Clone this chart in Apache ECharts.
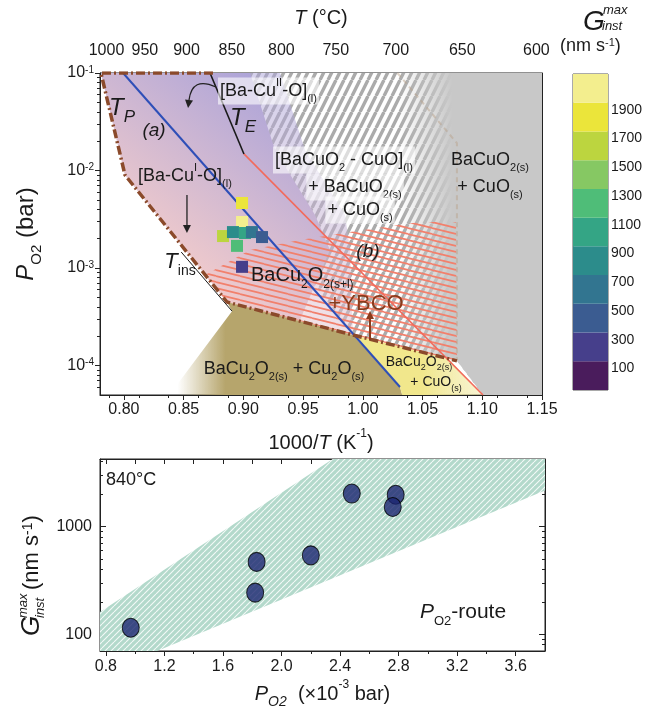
<!DOCTYPE html>
<html>
<head>
<meta charset="utf-8">
<script src="https://cdn.jsdelivr.net/npm/echarts@6/dist/echarts.min.js"></script>
<style>
  html, body { margin: 0; background: #fff; }
  #main { width: 652px; height: 711px; }
</style>
</head>
<body>
<div id="main"></div>
<script>
// ---------- top panel: x = 1000/T (K^-1), y = PO2 (bar) ----------
const xTicksTop = [0.80, 0.85, 0.90, 0.95, 1.00, 1.05, 1.10, 1.15];
const tempTicksC = [1000, 950, 900, 850, 800, 750, 700, 650, 600];
const tempMinorC = [975, 925, 875, 825, 775, 725, 675, 625];

const lineA = [[0.7993, 0.1], [1.0311, 6.04e-5]];
const lineTE = [[0.8721, 0.1], [0.9005, 0.0148]];
const lineB = [[0.9005, 0.0148], [1.1006, 5.0e-5]];
const lineTins = [[0.848, 1.46e-3], [0.8905, 3.62e-4]];
const lineFaint = [[1.029, 0.1], [1.0788, 0.0191], [1.0788, 1.14e-4]];
const boundary = [[0.8746, 0.1], [0.7808, 0.1], [0.8009, 9.0e-3], [0.8863, 4.49e-4], [0.9918, 2.06e-4], [1.0788, 1.12e-4]];

const liquidRegion = [[0.7808, 0.1], [0.9056, 0.1], [0.9265, 0.0162], [0.96, 3.5e-3], [0.9725, 1.53e-3], [0.9474, 2.94e-4], [0.8863, 4.49e-4], [0.8009, 9.0e-3]];
const liquidHalo = [[0.7808, 0.1], [0.9307, 0.1], [0.9516, 0.0162], [0.9851, 3.5e-3], [0.9893, 1.53e-3], [0.9918, 2.06e-4], [0.8863, 4.49e-4], [0.8009, 9.0e-3]];
const grayHatchRegion = [[0.87, 0.1], [1.15, 0.1], [1.15, 5e-5], [1.1006, 5e-5], [1.0788, 1.12e-4], [0.9918, 2.06e-4], [0.93, 2e-3]];
const graySolidRegion = [[1.02, 0.1], [1.15, 0.1], [1.15, 5e-5], [1.1006, 5e-5], [1.0788, 1.12e-4], [1.02, 1.6e-4]];
const redHatchRegion = [[0.8679, 8.5e-4], [0.9056, 1.53e-3], [0.9474, 1.94e-3], [0.9893, 2.34e-3], [1.0479, 2.97e-3], [1.078, 2.97e-3], [1.0788, 1.12e-4], [0.9918, 2.06e-4], [0.8863, 4.49e-4]];
const oliveRegion = [[0.8863, 4.49e-4], [0.9918, 2.06e-4], [1.0311, 6.04e-5], [1.033, 5e-5], [0.838, 5e-5], [0.8905, 3.62e-4]];
const yellowRegion = [[0.9918, 2.06e-4], [1.072, 1.17e-4], [1.1006, 5e-5], [1.033, 5e-5], [1.0311, 6.04e-5]];

// growth-rate squares: [1000/T, PO2, G]
const squares = [
  [0.8989, 4.65e-3, 1850], [0.8989, 2.97e-3, 2050], [0.883, 2.13e-3, 1650],
  [0.8913, 2.34e-3, 850], [0.9014, 2.29e-3, 1050], [0.9072, 2.34e-3, 650],
  [0.9156, 2.08e-3, 450], [0.8947, 1.69e-3, 1250], [0.8989, 1.03e-3, 250]
];

// colour bar
const pieceEdges = [-50, 150, 350, 550, 750, 950, 1150, 1350, 1550, 1750, 1950, 2150];
const pieceColors = ['#4a1c5c', '#463f8b', '#3b5c91', '#327590', '#2c8c8b', '#34a585', '#4fbd78', '#86c863', '#bcd53f', '#ebe53a', '#f3ee8e'];
const cbTicks = [100, 300, 500, 700, 900, 1100, 1300, 1500, 1700, 1900];

// ---------- bottom panel: PO2 (1e-3 bar) vs G ----------
const po2 = [0.97, 1.83, 1.82, 2.2, 2.48, 2.78, 2.76];
const gInst = [115, 468, 243, 538, 2010, 1960, 1510];
const xTicksBottom = [0.8, 1.2, 1.6, 2.0, 2.4, 2.8, 3.2, 3.6];
const bandRegion = [[0.76, 70], [0.76, 161], [2.35, 4200], [3.8, 4200], [3.8, 2150], [1.15, 70]];

const FONT = '"Liberation Sans", Arial, sans-serif';

function richFor(size) {
  const s = Math.round(size * 0.62);
  return {
    i: { fontStyle: 'italic', fontSize: size, lineHeight: size * 1.5, verticalAlign: 'middle' },
    sup: { fontSize: s, lineHeight: s, verticalAlign: 'top' },
    sub: { fontSize: s, lineHeight: s, verticalAlign: 'bottom' },
    isub: { fontSize: s + 2, lineHeight: s + 2, fontStyle: 'italic', verticalAlign: 'bottom' }
  };
}

function hatch(w, h, bg, fg, lw, segs) {
  const c = document.createElement('canvas');
  c.width = w; c.height = h;
  const g = c.getContext('2d');
  if (bg) { g.fillStyle = bg; g.fillRect(0, 0, w, h); }
  g.strokeStyle = fg; g.lineWidth = lw; g.beginPath();
  segs.forEach(s => { g.moveTo(s[0], s[1]); g.lineTo(s[2], s[3]); });
  g.stroke();
  return { image: c, repeat: 'repeat' };
}
const grayHatch = hatch(8, 16, '#ffffff', '#ababab', 3.4, [[-8, 16, 0, 0], [0, 16, 8, 0], [8, 16, 16, 0]]);
const redHatch = hatch(24, 6, null, '#f2806c', 1.7, [[0, -6, 24, 0], [0, 0, 24, 6], [0, 6, 24, 12]]);
const tealHatch = hatch(6, 6, '#b3d9cb', 'rgba(255,255,255,0.85)', 1.1, [[-6, 6, 0, 0], [0, 6, 6, 0], [6, 6, 12, 0]]);

function grad(from, to, stops) {
  return c => {
    const a = c(from), b = c(to);
    return new echarts.graphic.LinearGradient(a[0], a[1], b[0], b[1], stops, true);
  };
}

function poly(points, fill, z, xi, yi) {
  return {
    type: 'custom', xAxisIndex: xi || 0, yAxisIndex: yi || 0, silent: true, z: z, clip: true,
    data: [points[0]],
    renderItem: (params, api) => {
      const c = p => api.coord(p);
      return {
        type: 'polygon',
        shape: { points: points.map(c) },
        style: { fill: typeof fill === 'function' ? fill(c) : fill, stroke: null }
      };
    }
  };
}

function line(data, color, width, type, z) {
  return {
    type: 'line', xAxisIndex: 0, yAxisIndex: 0, data: data, showSymbol: false, symbol: 'none',
    silent: true, z: z || 10, lineStyle: { color: color, width: width, type: type || 'solid' }
  };
}

const notes = [
  { at: [0.8788, 0.0654], text: '[Ba-Cu{sup|II}-O]{sub|(l)}', size: 18, align: 'left', bg: true },
  { at: [0.8997, 0.0346], text: '{i|T}{isub|E}', size: 24 },
  { at: [0.7984, 0.0438], text: '{i|T}{isub|P}', size: 24 },
  { at: [0.8252, 0.0254], text: '{i|(a)}', size: 19 },
  { at: [0.8118, 8.8e-3], text: '[Ba-Cu{sup|I}-O]{sub|(l)}', size: 18, align: 'left' },
  { at: [0.847, 1.16e-3], text: '{i|T}{sub|ins}', size: 22 },
  { at: [0.9248, 0.0128], text: '[BaCuO{sub|2} - CuO]{sub|(l)}', size: 18, align: 'left', bg: true },
  { at: [0.9935, 6.78e-3], text: '+ BaCuO{sub|2(s)}', size: 18, bg: true },
  { at: [0.9977, 3.94e-3], text: '+ CuO{sub|(s)}', size: 18, bg: true },
  { at: [1.1065, 0.0128], text: 'BaCuO{sub|2(s)}', size: 18 },
  { at: [1.1065, 6.78e-3], text: '+ CuO{sub|(s)}', size: 18 },
  { at: [1.0043, 1.46e-3], text: '{i|(b)}', size: 19 },
  { at: [0.9064, 8.3e-4], text: 'BaCu{sub|2}O{sub|2(s+l)}', size: 20, align: 'left' },
  { at: [1.0027, 4.29e-4], text: '+YBCO', size: 22, color: '#8a3b1c' },
  { at: [0.934, 9.25e-5], text: 'BaCu{sub|2}O{sub|2(s)} + Cu{sub|2}O{sub|(s)}', size: 18 },
  { at: [1.047, 1.09e-4], text: 'BaCu{sub|2}O{sub|2(s)}', size: 14 },
  { at: [1.0613, 6.79e-5], text: '+ CuO{sub|(s)}', size: 14 }
];
const notesBottom = [
  { at: [0.801, 2665], text: '840°C', size: 18, align: 'left' },
  { at: [3.24, 160], text: '{i|P}{sub|O2}-route', size: 21 }
];

const arrows = [
  { from: [0.8771, 0.0719], ctrl: [0.857, 0.0931], to: [0.8537, 0.0438], color: '#222' },
  { from: [0.8528, 5.62e-3], to: [0.8528, 2.29e-3], color: '#222' },
  { from: [1.006, 1.83e-4], to: [1.006, 3.63e-4], color: '#8a3b1c' }
];

function noteSeries(list, xi, yi) {
  return {
    type: 'custom', xAxisIndex: xi, yAxisIndex: yi, silent: true, z: 30, clip: false,
    data: list.map(n => n.at),
    renderItem: (params, api) => {
      const n = list[params.dataIndex];
      const p = api.coord([api.value(0), api.value(1)]);
      return {
        type: 'text', x: p[0], y: p[1],
        style: {
          text: n.text, rich: richFor(n.size), fontSize: n.size, lineHeight: n.size * 1.5,
          fontFamily: FONT, fill: n.color || '#1a1a1a', align: n.align || 'center',
          verticalAlign: 'middle', backgroundColor: n.bg ? 'rgba(255,255,255,0.6)' : null,
          padding: n.bg ? [0, 2] : 0
        }
      };
    }
  };
}

function logMinor(lo, hi) {
  const out = [];
  for (let d = -6; d <= 4; d++) for (let m = 2; m <= 9; m++) {
    const v = m * Math.pow(10, d);
    if (v > lo && v < hi) out.push(Math.log10(v));
  }
  return out;
}

const xMinorTop = [];
for (let k = 1; k < 30; k++) { const v = 0.775 + k * 0.0125; if (k % 4 !== 0 && v < 1.15) xMinorTop.push(+v.toFixed(4)); }
const xMinorBottom = [1.0, 1.4, 1.8, 2.2, 2.6, 3.0, 3.4];
const tempPos = tempTicksC.map(t => 1000 / (t + 273.15));
const tempMinorPos = tempMinorC.map(t => 1000 / (t + 273.15));

const axisLineK = { show: true, lineStyle: { color: '#222', width: 1 } };
const noLabel = { show: false };
const hidden = { show: false };

const series = [
  poly(grayHatchRegion, grayHatch, 1),
  poly(graySolidRegion, grad([1.03, 1e-3], [1.075, 1e-3], [{ offset: 0, color: 'rgba(200,200,200,0)' }, { offset: 1, color: '#c8c8c8' }]), 2),
  poly(liquidHalo, grad([0.8219, 9.5e-4], [0.939, 0.0595], [{ offset: 0, color: 'rgba(248,207,202,0.5)' }, { offset: 1, color: 'rgba(171,163,217,0.5)' }]), 3),
  poly(liquidRegion, grad([0.8219, 9.5e-4], [0.939, 0.0595], [{ offset: 0, color: '#f8cfca' }, { offset: 1, color: '#aba3d9' }]), 4),
  poly(redHatchRegion, redHatch, 5),
  poly(oliveRegion, grad([0.845, 1e-4], [0.885, 1e-4], [{ offset: 0, color: 'rgba(182,165,108,0)' }, { offset: 1, color: '#b6a56c' }]), 5),
  poly(yellowRegion, grad([1.05, 1e-4], [1.10, 1e-4], [{ offset: 0, color: '#f1e78c' }, { offset: 1, color: 'rgba(240,232,160,0.45)' }]), 5),
  line(lineFaint, 'rgba(185,160,135,0.45)', 2, [5, 4], 8),
  line(lineA, '#2e4fb8', 2),
  line(lineB, '#f26a5c', 1.6),
  line(lineTE, '#1a1a1a', 1.6),
  line(lineTins, '#1a1a1a', 1),
  line(boundary, '#8b4a2b', 3.5, [9, 3, 2, 3], 11),
  {
    type: 'custom', xAxisIndex: 0, yAxisIndex: 0, silent: true, z: 25, clip: false,
    data: arrows.map(a => a.to),
    renderItem: (params, api) => {
      const a = arrows[params.dataIndex];
      const p0 = api.coord(a.from), p1 = api.coord(a.to);
      const pc = a.ctrl ? api.coord(a.ctrl) : null;
      const dir = pc ? [p1[0] - pc[0], p1[1] - pc[1]] : [p1[0] - p0[0], p1[1] - p0[1]];
      const L = Math.hypot(dir[0], dir[1]);
      const u = [dir[0] / L, dir[1] / L], n = [-u[1], u[0]];
      const hl = 8, hw = 4;
      const base = [p1[0] - u[0] * hl, p1[1] - u[1] * hl];
      const head = { type: 'polygon', shape: { points: [p1, [base[0] + n[0] * hw, base[1] + n[1] * hw], [base[0] - n[0] * hw, base[1] - n[1] * hw]] }, style: { fill: a.color } };
      const body = pc
        ? { type: 'bezierCurve', shape: { x1: p0[0], y1: p0[1], x2: base[0], y2: base[1], cpx1: pc[0], cpy1: pc[1] }, style: { stroke: a.color, lineWidth: 1.3, fill: null } }
        : { type: 'line', shape: { x1: p0[0], y1: p0[1], x2: base[0], y2: base[1] }, style: { stroke: a.color, lineWidth: a.color === '#222' ? 1.3 : 2 } };
      return { type: 'group', children: [body, head] };
    }
  },
  {
    type: 'scatter', xAxisIndex: 0, yAxisIndex: 0, data: squares, symbol: 'rect', symbolSize: 12,
    z: 20, silent: true, itemStyle: { opacity: 1 }
  },
  noteSeries(notes, 0, 0),
  // bottom panel
  poly(bandRegion, tealHatch, 1, 3, 4),
  {
    type: 'scatter', xAxisIndex: 3, yAxisIndex: 4, data: po2.map((p, i) => [p, gInst[i]]),
    symbol: 'circle', symbolSize: [17, 19], z: 20, silent: true,
    itemStyle: { color: '#1c2571', borderColor: '#000', borderWidth: 1 }
  },
  noteSeries(notesBottom, 3, 4),
  // colour bar
  {
    type: 'custom', xAxisIndex: 6, yAxisIndex: 8, silent: true, z: 5,
    data: pieceColors.map((c, i) => [0, pieceEdges[i], pieceEdges[i + 1]]),
    renderItem: (params, api) => {
      const cs = params.coordSys;
      const y0 = api.coord([0, api.value(1)])[1], y1 = api.coord([0, api.value(2)])[1];
      return { type: 'rect', shape: { x: cs.x, y: y1, width: cs.width, height: y0 - y1 }, style: { fill: pieceColors[params.dataIndex] } };
    }
  }
];
const squareIndex = series.findIndex(s => s.type === 'scatter' && s.data === squares);

const labelFont = { fontFamily: FONT, fontSize: 16, color: '#1a1a1a' };

const option = {
  animation: false,
  grid: [
    { left: 100, top: 73, width: 442, height: 322, show: true, borderColor: '#222', borderWidth: 1 },
    { left: 100, top: 459, width: 445, height: 192, show: true, borderColor: '#222', borderWidth: 1 },
    { left: 573, top: 74, width: 35, height: 316, show: true, borderColor: '#555', borderWidth: 1 }
  ],
  visualMap: {
    type: 'piecewise', show: false, seriesIndex: squareIndex, dimension: 2,
    pieces: pieceColors.map((c, i) => ({ gte: pieceEdges[i], lt: pieceEdges[i + 1], color: c }))
  },
  xAxis: [
    { gridIndex: 0, type: 'value', position: 'bottom', min: 0.78, max: 1.15, splitLine: hidden, axisLine: axisLineK,
      axisTick: { inside: false, length: 5, customValues: xTicksTop, lineStyle: { color: '#222' } },
      axisLabel: Object.assign({ customValues: xTicksTop, margin: 7, formatter: v => v.toFixed(2) }, labelFont),
      name: '1000/{i|T} (K{sup|-1})', nameLocation: 'middle', nameGap: 33,
      nameTextStyle: { fontFamily: FONT, fontSize: 20, color: '#1a1a1a', rich: richFor(20) } },
    { gridIndex: 0, type: 'value', position: 'bottom', min: 0.78, max: 1.15, splitLine: hidden, axisLine: hidden,
      axisTick: { inside: false, length: 3, customValues: xMinorTop, lineStyle: { color: '#222' } }, axisLabel: noLabel },
    { gridIndex: 0, type: 'value', position: 'top', min: 0.78, max: 1.15, splitLine: hidden, axisLine: axisLineK,
      axisTick: { inside: true, length: 5, customValues: tempPos.concat(tempMinorPos), lineStyle: { color: '#222' } },
      axisLabel: Object.assign({ customValues: tempPos, margin: 14, formatter: v => String(Math.round(1000 / v - 273.15)) }, labelFont),
      name: '{i|T} (°C)', nameLocation: 'middle', nameGap: 40,
      nameTextStyle: { fontFamily: FONT, fontSize: 20, color: '#1a1a1a', rich: richFor(20) } },
    { gridIndex: 1, type: 'value', position: 'bottom', min: 0.76, max: 3.8, splitLine: hidden, axisLine: axisLineK,
      axisTick: { inside: false, length: 5, customValues: xTicksBottom, lineStyle: { color: '#222' } },
      axisLabel: Object.assign({ customValues: xTicksBottom, margin: 8, formatter: v => v.toFixed(1) }, labelFont),
      name: '{i|P}{isub|O2}  (×10{sup|-3} bar)', nameLocation: 'middle', nameGap: 28,
      nameTextStyle: { fontFamily: FONT, fontSize: 20, color: '#1a1a1a', rich: richFor(20) } },
    { gridIndex: 1, type: 'value', position: 'bottom', min: 0.76, max: 3.8, splitLine: hidden, axisLine: hidden,
      axisTick: { inside: false, length: 3, customValues: xMinorBottom, lineStyle: { color: '#222' } }, axisLabel: noLabel },
    { gridIndex: 1, type: 'value', position: 'top', min: 0.76, max: 3.8, splitLine: hidden, axisLine: axisLineK,
      axisTick: { inside: true, length: 5, customValues: xTicksBottom.concat(xMinorBottom), lineStyle: { color: '#222' } }, axisLabel: noLabel },
    { gridIndex: 2, type: 'category', data: [''], show: false }
  ],
  yAxis: [
    { gridIndex: 0, type: 'log', position: 'left', min: 5e-5, max: 0.1, splitLine: hidden, axisLine: axisLineK,
      axisTick: { inside: false, length: 5, lineStyle: { color: '#222' } },
      axisLabel: Object.assign({ showMinLabel: false, margin: 6, formatter: v => '10{sup|' + Math.round(Math.log10(v)) + '}', rich: richFor(16) }, labelFont),
      name: '{i|P}{sub|O2} (bar)', nameLocation: 'middle', nameGap: 56, nameRotate: 90,
      nameTextStyle: { fontFamily: FONT, fontSize: 24, color: '#1a1a1a', rich: richFor(24) } },
    { gridIndex: 0, type: 'value', position: 'left', min: Math.log10(5e-5), max: -1, splitLine: hidden, axisLine: hidden,
      axisTick: { inside: false, length: 3, customValues: logMinor(5e-5, 0.1), lineStyle: { color: '#222' } }, axisLabel: noLabel },
    { gridIndex: 0, type: 'log', position: 'right', min: 5e-5, max: 0.1, splitLine: hidden, axisLine: axisLineK,
      axisTick: { inside: true, length: 5, lineStyle: { color: '#222' } }, axisLabel: noLabel },
    { gridIndex: 0, type: 'value', position: 'right', min: Math.log10(5e-5), max: -1, splitLine: hidden, axisLine: hidden,
      axisTick: { inside: true, length: 3, customValues: logMinor(5e-5, 0.1), lineStyle: { color: '#222' } }, axisLabel: noLabel },
    { gridIndex: 1, type: 'log', position: 'left', min: 70, max: 4200, splitLine: hidden, axisLine: axisLineK,
      axisTick: { inside: true, length: 6, lineStyle: { color: '#222' } },
      axisLabel: Object.assign({ showMinLabel: false, showMaxLabel: false, margin: 8, formatter: v => String(Math.round(v)) }, labelFont) },
    { gridIndex: 1, type: 'value', position: 'left', min: Math.log10(70), max: Math.log10(4200), splitLine: hidden, axisLine: hidden,
      axisTick: { inside: true, length: 3, customValues: logMinor(70, 4200), lineStyle: { color: '#222' } }, axisLabel: noLabel },
    { gridIndex: 1, type: 'log', position: 'right', min: 70, max: 4200, splitLine: hidden, axisLine: axisLineK,
      axisTick: { inside: true, length: 6, lineStyle: { color: '#222' } }, axisLabel: noLabel },
    { gridIndex: 1, type: 'value', position: 'right', min: Math.log10(70), max: Math.log10(4200), splitLine: hidden, axisLine: hidden,
      axisTick: { inside: true, length: 3, customValues: logMinor(70, 4200), lineStyle: { color: '#222' } }, axisLabel: noLabel },
    { gridIndex: 2, type: 'value', position: 'right', min: -50, max: 2150, splitLine: hidden, axisLine: hidden,
      axisTick: { inside: false, length: 4, customValues: cbTicks, lineStyle: { color: '#444' } },
      axisLabel: Object.assign({}, labelFont, { customValues: cbTicks, margin: 3, fontSize: 14, formatter: v => String(v) }) }
  ],
  graphic: [
    { type: 'text', left: 583, top: 8, style: { text: 'G', fontFamily: FONT, fontSize: 28, fontStyle: 'italic', fill: '#1a1a1a' } },
    { type: 'text', left: 603, top: 4, style: { text: 'max', fontFamily: FONT, fontSize: 13, fontStyle: 'italic', fill: '#1a1a1a' } },
    { type: 'text', left: 602, top: 20, style: { text: 'inst', fontFamily: FONT, fontSize: 13, fontStyle: 'italic', fill: '#1a1a1a' } },
    { type: 'text', left: 560, top: 37, style: { text: '(nm s{sup|-1})', rich: richFor(18), fontFamily: FONT, fontSize: 18, fill: '#1a1a1a' } },
    { type: 'group', x: 32, y: 636, rotation: Math.PI / 2, children: [
      { type: 'text', x: 0, y: 0, style: { text: 'G', fontFamily: FONT, fontSize: 26, fontStyle: 'italic', fill: '#1a1a1a', align: 'left', verticalAlign: 'middle' } },
      { type: 'text', x: 18, y: -9, style: { text: 'max', fontFamily: FONT, fontSize: 13, fontStyle: 'italic', fill: '#1a1a1a', align: 'left', verticalAlign: 'middle' } },
      { type: 'text', x: 18, y: 8, style: { text: 'inst', fontFamily: FONT, fontSize: 13, fontStyle: 'italic', fill: '#1a1a1a', align: 'left', verticalAlign: 'middle' } },
      { type: 'text', x: 46, y: 0, style: { text: '(nm s{sup|-1})', rich: richFor(22), fontFamily: FONT, fontSize: 22, fill: '#1a1a1a', align: 'left', verticalAlign: 'middle' } }
    ] }
  ],
  series: series
};

const chart = echarts.init(document.getElementById('main'));
chart.setOption(option);
</script>
</body>
</html>
